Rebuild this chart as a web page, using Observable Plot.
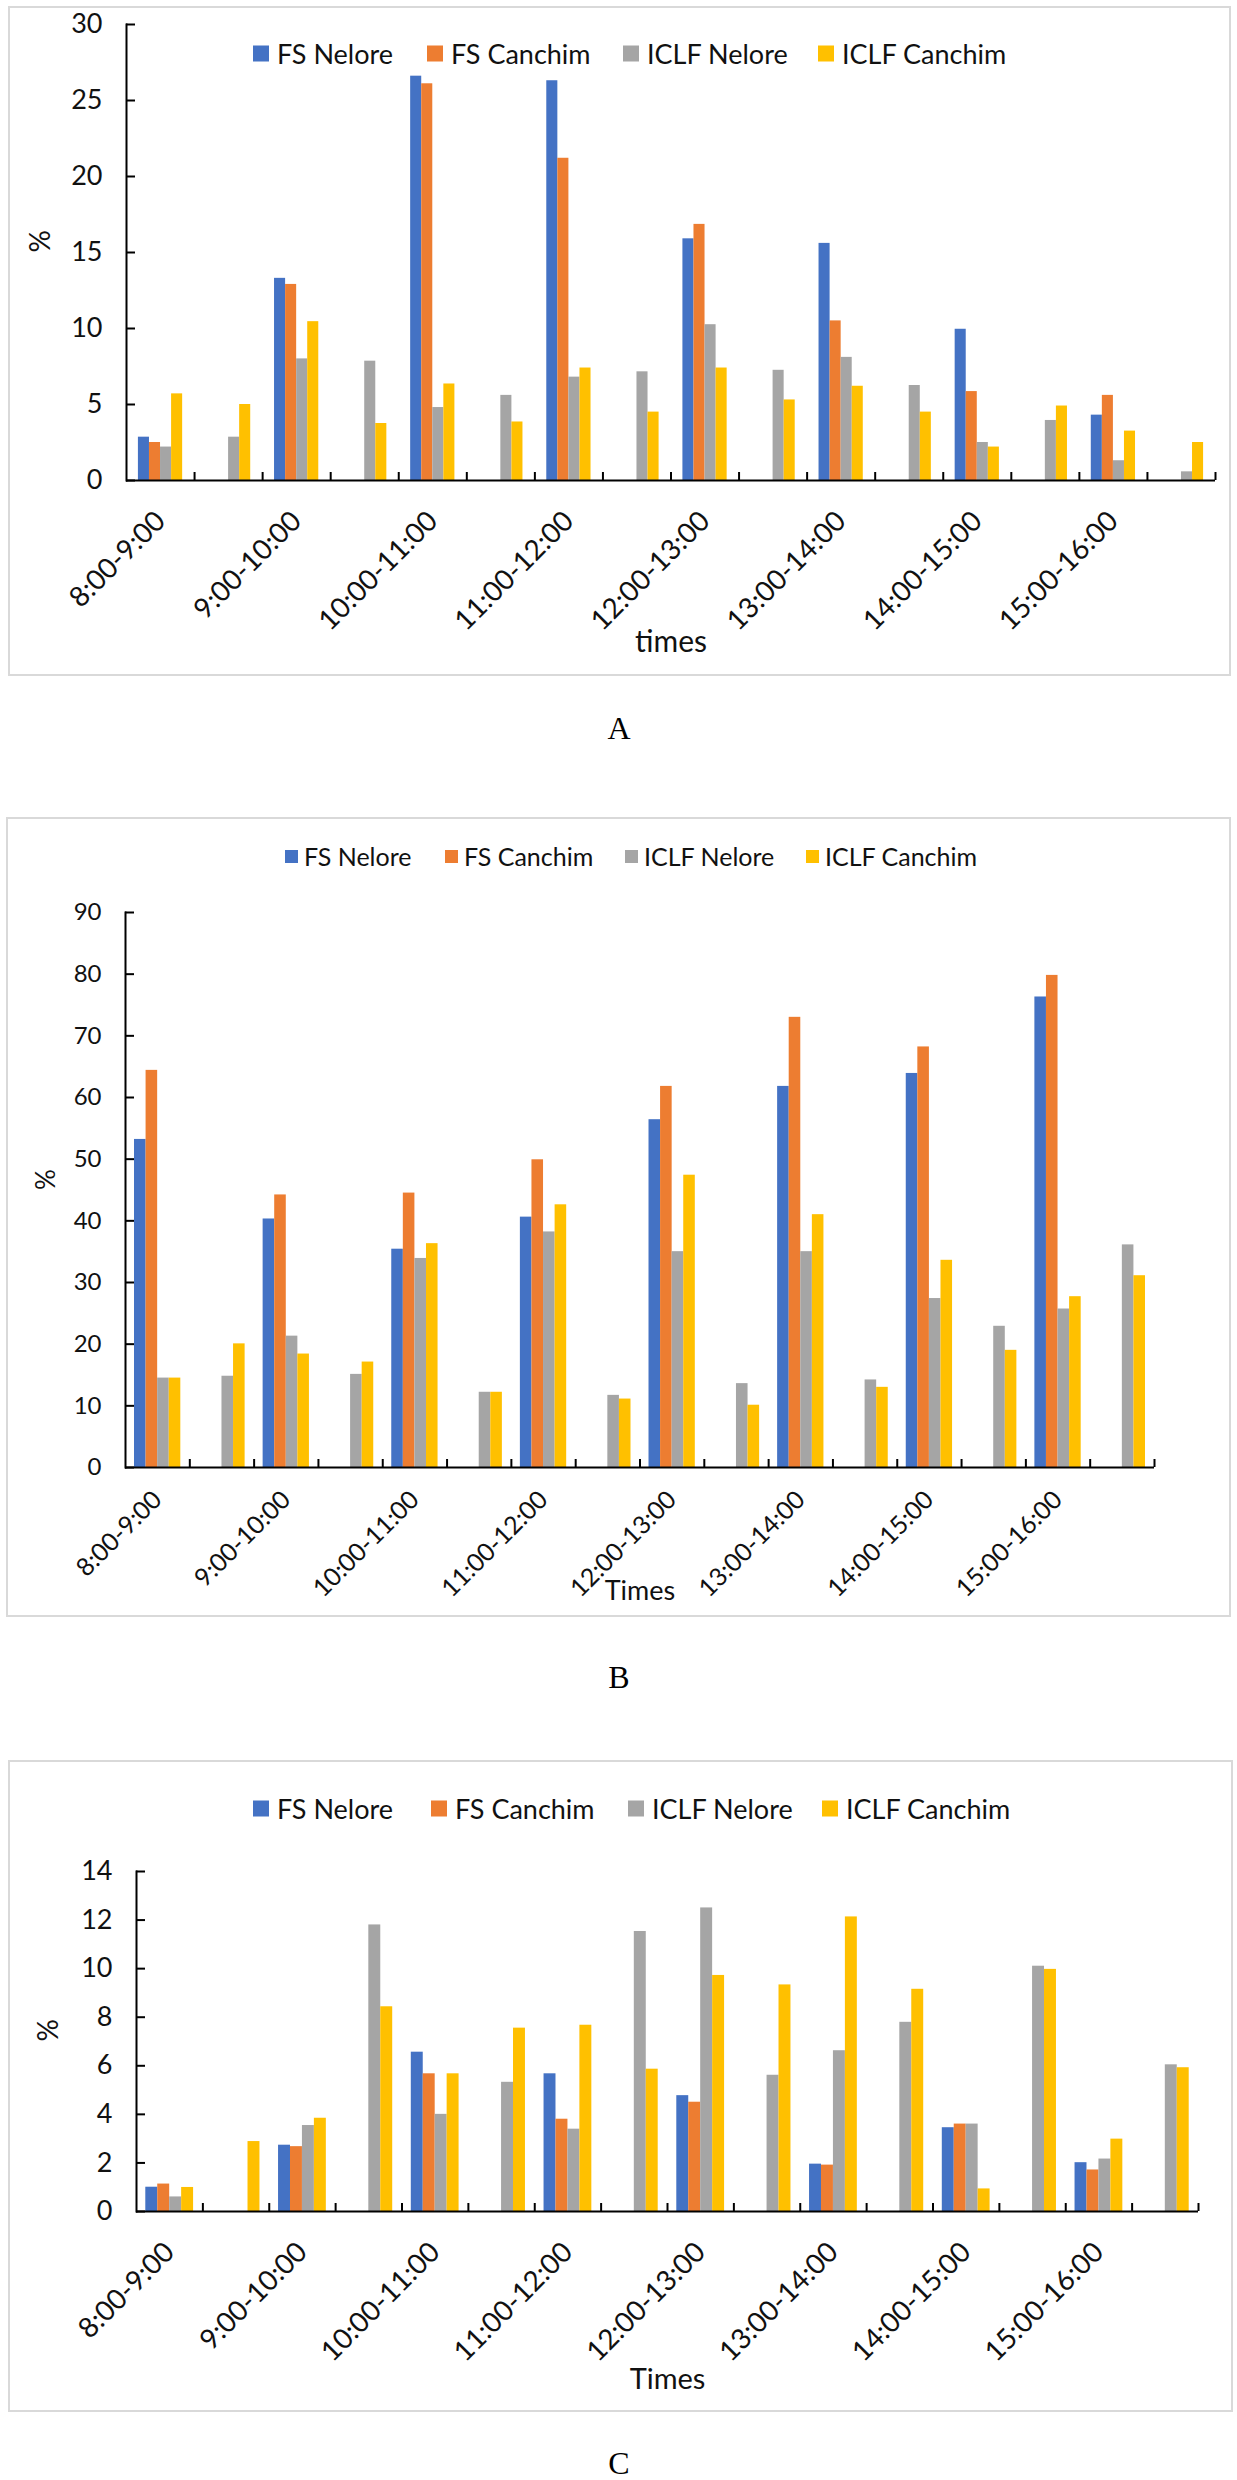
<!DOCTYPE html>
<html>
<head>
<meta charset="utf-8">
<script src="https://cdn.jsdelivr.net/npm/d3@7"></script>
<script src="https://cdn.jsdelivr.net/npm/@observablehq/plot@0.6"></script>
<style>
  html, body { margin: 0; padding: 0; background: #fff; }
  body { width: 1237px; height: 2480px; position: relative; overflow: hidden; font-family: Lato, "Open Sans", sans-serif; color: #111; }
  .box { position: absolute; border: 2px solid #d9d9d9; box-sizing: border-box; }
  .chart { position: absolute; left: 0; }
  .item { position: absolute; display: flex; align-items: center; white-space: nowrap; transform: translateY(-50%); }
  .sw { display: inline-block; }
  .letter { position: absolute; font-family: "Liberation Serif", "Times New Roman", serif; font-size: 32px; transform: translate(-50%, -50%); color: #000; }
</style>
</head>
<body>
<script>
// ---- data ----
const series = ["FS Nelore", "FS Canchim", "ICLF Nelore", "ICLF Canchim"];
const colors = ["#4472C4", "#ED7D31", "#A5A5A5", "#FFC000"];
const slots = [0, 1, 2, 3, 4, 5, 6, 7, 8, 9, 10, 11, 12, 13, 14, 15];
const timeLabels = ["8:00-9:00", "9:00-10:00", "10:00-11:00", "11:00-12:00", "12:00-13:00", "13:00-14:00", "14:00-15:00", "15:00-16:00"];

// Panel A
const fsNeloreA   = [2.85, null, 13.3, null, 26.6, null, 26.3, null, 15.9, null, 15.6, null, 9.95, null, 4.3, null];
const fsCanchimA  = [2.5, null, 12.9, null, 26.1, null, 21.2, null, 16.85, null, 10.5, null, 5.85, null, 5.6, null];
const iclfNeloreA = [2.2, 2.85, 8.0, 7.85, 4.8, 5.6, 6.8, 7.15, 10.25, 7.25, 8.1, 6.25, 2.5, 3.95, 1.3, 0.57];
const iclfCanchimA= [5.7, 5.0, 10.45, 3.75, 6.35, 3.85, 7.4, 4.5, 7.4, 5.3, 6.2, 4.5, 2.2, 4.9, 3.25, 2.5];
const yTicksA = [0, 5, 10, 15, 20, 25, 30];

// Panel B
const fsNeloreB   = [53.2, null, 40.3, null, 35.4, null, 40.6, null, 56.4, null, 61.8, null, 63.9, null, 76.3, null];
const fsCanchimB  = [64.4, null, 44.2, null, 44.5, null, 49.9, null, 61.8, null, 73.0, null, 68.2, null, 79.8, null];
const iclfNeloreB = [14.5, 14.8, 21.3, 15.1, 33.9, 12.2, 38.2, 11.7, 35.0, 13.6, 35.0, 14.2, 27.4, 22.9, 25.7, 36.1];
const iclfCanchimB= [14.5, 20.05, 18.4, 17.1, 36.3, 12.2, 42.6, 11.1, 47.4, 10.1, 41.0, 13.0, 33.6, 19.0, 27.7, 31.1];
const yTicksB = [0, 10, 20, 30, 40, 50, 60, 70, 80, 90];

// Panel C
const fsNeloreC   = [1.0, null, 2.73, null, 6.56, null, 5.67, null, 4.77, null, 1.95, null, 3.45, null, 2.01, null];
const fsCanchimC  = [1.13, null, 2.67, null, 5.67, null, 3.8, null, 4.5, null, 1.91, null, 3.6, null, 1.71, null];
const iclfNeloreC = [0.6, null, 3.54, 11.8, 4.0, 5.32, 3.39, 11.53, 12.5, 5.61, 6.62, 7.79, 3.6, 10.1, 2.16, 6.04];
const iclfCanchimC= [0.99, 2.88, 3.84, 8.43, 5.67, 7.55, 7.67, 5.86, 9.72, 9.33, 12.13, 9.15, 0.93, 9.97, 2.98, 5.92];
const yTicksC = [0, 2, 4, 6, 8, 10, 12, 14];

// ---- layout / style config ----
const W = 1237;
const panels = [
  { values: [fsNeloreA, fsCanchimA, iclfNeloreA, iclfCanchimA], yTicks: yTicksA, yMax: 30,
    top: 0, height: 690, mL: 126, mR: 22, mT: 24, mB: 210, pad: 0.35,
    tickFs: 28, tp: 36, yFs: 27, xlab: "times", xlabFs: 30, xlabDy: 171, pctDx: -85, pctFs: 28,
    legY: 53, legFs: 27, sw: 16, swGap: 8, legX: [253, 427, 623, 818],
    box: { l: 8, t: 6, r: 1231, b: 676 }, letter: "A", letterY: 728 },
  { values: [fsNeloreB, fsCanchimB, iclfNeloreB, iclfCanchimB], yTicks: yTicksB, yMax: 90,
    top: 817, height: 800, mL: 125, mR: 83, mT: 95, mB: 150, pad: 0.28,
    tickFs: 25, tp: 28, yFs: 24, xlab: "Times", xlabFs: 27, xlabDy: 132, pctDx: -79, pctFs: 26,
    legY: 856, legFs: 25, sw: 13, swGap: 6, legX: [285, 445, 625, 806],
    box: { l: 6, t: 817, r: 1231, b: 1617 }, letter: "B", letterY: 1677 },
  { values: [fsNeloreC, fsCanchimC, iclfNeloreC, iclfCanchimC], yTicks: yTicksC, yMax: 14,
    top: 1760, height: 652, mL: 136, mR: 39, mT: 111, mB: 201, pad: 0.28,
    tickFs: 28, tp: 36, yFs: 27, xlab: "Times", xlabFs: 29, xlabDy: 177, pctDx: -87, pctFs: 28,
    legY: 1808, legFs: 27, sw: 16, swGap: 8, legX: [253, 431, 628, 822],
    box: { l: 8, t: 1760, r: 1233, b: 2412 }, letter: "C", letterY: 2463 }
];

function makePanel(cfg) {
  const data = [];
  cfg.values.forEach((arr, si) => arr.forEach((v, i) => {
    if (v != null) data.push({ slot: slots[i], series: series[si], si, value: v });
  }));
  const innerW = W - cfg.mL - cfg.mR;
  const step = innerW / slots.length;
  const sub = step * (1 - cfg.pad) / 4;
  const evenSlots = slots.filter((d, i) => i % 2 === 0);

  const bars = series.map((s, si) => Plot.barY(data.filter(d => d.si === si), {
    x: "slot", y: "value", fill: colors[si],
    insetLeft: si * sub, insetRight: (3 - si) * sub
  }));

  const svg = Plot.plot({
    width: W, height: cfg.height,
    marginLeft: cfg.mL, marginRight: cfg.mR, marginTop: cfg.mT, marginBottom: cfg.mB,
    style: { background: "transparent", overflow: "visible", fontFamily: "Lato, 'Open Sans', sans-serif", color: "#111" },
    x: { type: "band", domain: slots, paddingInner: cfg.pad, paddingOuter: cfg.pad / 2, round: false, label: null },
    y: { domain: [0, cfg.yMax], label: null },
    marks: [
      ...bars,
      Plot.ruleY([0], { stroke: "#000", strokeWidth: 2 }),
      Plot.frame({ anchor: "left", stroke: "#000", strokeWidth: 2 }),
      Plot.axisY(cfg.yTicks, { tickSize: -9, fill: "none", stroke: "#000", strokeWidth: 2, label: null }),
      Plot.axisY(cfg.yTicks, { tickSize: 0, tickPadding: 24, fontSize: cfg.yFs, label: null }),
      Plot.axisX(slots, { tickSize: -8, dx: step / 2, fill: "none", stroke: "#000", strokeWidth: 2, label: null }),
      Plot.axisX(evenSlots, { tickSize: 0, tickRotate: -45, tickPadding: cfg.tp, fontSize: cfg.tickFs,
        tickFormat: d => timeLabels[slots.indexOf(d) / 2], label: null }),
      Plot.text([cfg.xlab], { text: d => d, frameAnchor: "bottom", dy: cfg.xlabDy, fontSize: cfg.xlabFs }),
      Plot.text(["%"], { text: d => d, frameAnchor: "left", dx: cfg.pctDx, rotate: -90, fontSize: cfg.pctFs })
    ]
  });
  svg.classList.add("chart");
  svg.style.top = cfg.top + "px";
  return svg;
}

for (const cfg of panels) {
  const box = document.createElement("div");
  box.className = "box";
  Object.assign(box.style, { left: cfg.box.l + "px", top: cfg.box.t + "px",
    width: (cfg.box.r - cfg.box.l) + "px", height: (cfg.box.b - cfg.box.t) + "px" });
  document.body.appendChild(box);

  document.body.appendChild(makePanel(cfg));

  series.forEach((s, si) => {
    const it = document.createElement("div");
    it.className = "item";
    Object.assign(it.style, { left: cfg.legX[si] + "px", top: cfg.legY + "px", fontSize: cfg.legFs + "px", gap: cfg.swGap + "px" });
    const sw = document.createElement("span");
    sw.className = "sw";
    Object.assign(sw.style, { width: cfg.sw + "px", height: cfg.sw + "px", background: colors[si] });
    const tx = document.createElement("span");
    tx.textContent = s;
    it.appendChild(sw); it.appendChild(tx);
    document.body.appendChild(it);
  });

  const L = document.createElement("div");
  L.className = "letter";
  L.textContent = cfg.letter;
  Object.assign(L.style, { left: "619px", top: cfg.letterY + "px" });
  document.body.appendChild(L);
}
</script>
</body>
</html>
